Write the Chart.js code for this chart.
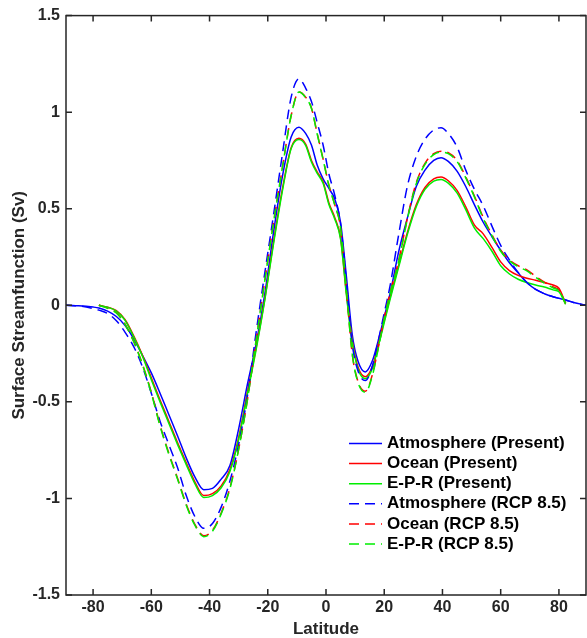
<!DOCTYPE html>
<html>
<head>
<meta charset="utf-8">
<script src="https://cdn.jsdelivr.net/npm/chart.js@4.4.1/dist/chart.umd.min.js"></script>
<style>
  html, body { margin: 0; padding: 0; background: #fff; }
</style>
</head>
<body>
<canvas id="chart" width="587" height="638"></canvas>
<script>
'use strict';

// Latitude grid shared by all curves (null = curve not defined there)
const latitude = [-89.3, -85, -80, -78, -75, -72, -69, -66, -63, -60, -57, -54, -51, -48, -45, -42, -39, -36, -33, -30,
  -27, -24, -21, -18, -15, -12, -9.3, -7, -5, -3, -1, 1, 3, 5, 7, 9, 11, 13.5, 16, 18,
  20, 22, 25, 28, 31, 34, 37, 39.5, 42, 45, 48, 51, 54, 57, 60, 63, 66, 69, 72, 75,
  78, 80, 82.3, 85, 89.3];

const atmPresent = [0, -0.002, -0.009, -0.014, -0.03, -0.058, -0.105, -0.175, -0.26, -0.35, -0.455, -0.565, -0.675, -0.79, -0.89, -0.955, -0.948, -0.9, -0.83, -0.64,
  -0.41, -0.2, 0.06, 0.38, 0.665, 0.87, 0.922, 0.89, 0.83, 0.725, 0.655, 0.605, 0.55, 0.43, 0.15, -0.15, -0.29, -0.345, -0.285, -0.18,
  -0.06, 0.06, 0.28, 0.455, 0.615, 0.7, 0.75, 0.764, 0.745, 0.695, 0.615, 0.52, 0.43, 0.355, 0.285, 0.22, 0.168, 0.118, 0.082, 0.06,
  0.044, 0.036, 0.027, 0.015, 0];

const ocnPresent = [null, null, null, 0, -0.01, -0.028, -0.075, -0.16, -0.26, -0.375, -0.49, -0.6, -0.71, -0.815, -0.915, -0.985, -0.975, -0.935, -0.85, -0.685,
  -0.45, -0.22, 0.035, 0.33, 0.6, 0.815, 0.865, 0.835, 0.75, 0.69, 0.64, 0.53, 0.455, 0.35, 0.065, -0.18, -0.32, -0.37, -0.315, -0.2,
  -0.08, 0.04, 0.21, 0.38, 0.52, 0.61, 0.655, 0.664, 0.645, 0.595, 0.51, 0.415, 0.37, 0.3, 0.225, 0.18, 0.155, 0.14, 0.13, 0.118,
  0.105, 0.088, 0.01, null, null];

const eprPresent = [null, null, null, 0, -0.01, -0.03, -0.078, -0.165, -0.265, -0.385, -0.5, -0.61, -0.72, -0.825, -0.925, -0.995, -0.985, -0.945, -0.86, -0.695,
  -0.46, -0.23, 0.03, 0.32, 0.59, 0.81, 0.858, 0.828, 0.742, 0.683, 0.632, 0.522, 0.447, 0.342, 0.055, -0.19, -0.33, -0.38, -0.325, -0.21,
  -0.09, 0.03, 0.2, 0.37, 0.51, 0.6, 0.643, 0.652, 0.633, 0.582, 0.495, 0.4, 0.345, 0.28, 0.205, 0.162, 0.135, 0.118, 0.105, 0.095,
  0.08, 0.07, 0.005, null, null];

const atmRcp = [0, -0.003, -0.017, -0.025, -0.042, -0.08, -0.14, -0.215, -0.32, -0.455, -0.6, -0.72, -0.84, -0.985, -1.095, -1.155, -1.13, -1.045, -0.91, -0.72,
  -0.47, -0.14, 0.17, 0.47, 0.78, 1.075, 1.173, 1.125, 1.055, 0.945, 0.83, 0.68, 0.57, 0.42, 0.12, -0.2, -0.34, -0.39, -0.31, -0.18,
  -0.04, 0.1, 0.37, 0.62, 0.77, 0.86, 0.908, 0.919, 0.89, 0.82, 0.7, 0.6, 0.515, 0.41, 0.31, 0.235, 0.17, 0.118, 0.082, 0.06,
  0.044, 0.036, 0.027, 0.015, 0];

const ocnRcp = [null, null, null, 0, -0.014, -0.038, -0.098, -0.188, -0.306, -0.45, -0.62, -0.765, -0.895, -1.03, -1.135, -1.193, -1.165, -1.075, -0.945, -0.745,
  -0.49, -0.18, 0.13, 0.43, 0.71, 0.98, 1.104, 1.078, 1.022, 0.888, 0.758, 0.622, 0.522, 0.402, 0.08, -0.25, -0.395, -0.445, -0.355, -0.215,
  -0.065, 0.065, 0.235, 0.455, 0.635, 0.735, 0.785, 0.798, 0.79, 0.75, 0.665, 0.565, 0.455, 0.365, 0.285, 0.235, 0.205, 0.183, 0.15, 0.12,
  0.095, 0.08, 0.01, null, null];

const eprRcp = [null, null, null, 0, -0.015, -0.04, -0.1, -0.19, -0.31, -0.455, -0.625, -0.77, -0.9, -1.035, -1.14, -1.198, -1.17, -1.08, -0.95, -0.745,
  -0.49, -0.18, 0.13, 0.43, 0.71, 0.98, 1.104, 1.075, 1.02, 0.885, 0.755, 0.62, 0.52, 0.4, 0.08, -0.25, -0.4, -0.45, -0.36, -0.22,
  -0.07, 0.06, 0.23, 0.45, 0.63, 0.73, 0.78, 0.793, 0.785, 0.745, 0.66, 0.56, 0.45, 0.36, 0.28, 0.23, 0.2, 0.178, 0.145, 0.115,
  0.09, 0.075, 0.01, null, null];

const seriesLabels = ['Atmosphere (Present)', 'Ocean (Present)', 'E-P-R (Present)',
  'Atmosphere (RCP 8.5)', 'Ocean (RCP 8.5)', 'E-P-R (RCP 8.5)'];

const xTicks = [-80, -60, -40, -20, 0, 20, 40, 60, 80];
const yTicks = [-1.5, -1, -0.5, 0, 0.5, 1, 1.5];

const axisColor = '#262626';
const fontFamily = '"Liberation Sans", Arial, Helvetica, sans-serif';
const dash = [10, 6];

function points(values) {
  const out = [];
  values.forEach((v, i) => {
    if (v !== null) out.push({ x: latitude[i], y: v });
  });
  return out;
}

// later series are drawn on top, as in the original plot
function line(index, values, color, dashed) {
  return {
    label: seriesLabels[index],
    data: points(values),
    borderColor: color,
    borderWidth: 1.5,
    borderDash: dashed ? dash : [],
    pointRadius: 0,
    fill: false,
    cubicInterpolationMode: 'monotone',
    order: seriesLabels.length - index,
  };
}

// Box round the plot with inward ticks on all four sides
const axesBox = {
  id: 'axesBox',
  afterDatasetsDraw(chart) {
    const { ctx, chartArea: a, scales: { x, y } } = chart;
    ctx.save();
    ctx.strokeStyle = axisColor;
    ctx.lineWidth = 1.5;
    ctx.strokeRect(a.left, a.top, a.right - a.left, a.bottom - a.top);
    ctx.beginPath();
    for (const t of x.ticks) {
      const px = x.getPixelForValue(t.value);
      ctx.moveTo(px, a.bottom); ctx.lineTo(px, a.bottom - 6);
      ctx.moveTo(px, a.top); ctx.lineTo(px, a.top + 6);
    }
    for (const t of y.ticks) {
      const py = y.getPixelForValue(t.value);
      ctx.moveTo(a.left, py); ctx.lineTo(a.left + 6, py);
      ctx.moveTo(a.right, py); ctx.lineTo(a.right - 6, py);
    }
    ctx.stroke();
    ctx.restore();
  }
};

// Legend inside the lower right of the plot
const innerLegend = {
  id: 'innerLegend',
  afterDraw(chart) {
    const { ctx } = chart;
    ctx.save();
    ctx.font = `bold 17px ${fontFamily}`;
    ctx.textBaseline = 'middle';
    chart.data.datasets.forEach((ds, i) => {
      const yy = 443.5 + i * 20.1;
      ctx.strokeStyle = ds.borderColor;
      ctx.lineWidth = 1.5;
      ctx.setLineDash(ds.borderDash);
      ctx.beginPath();
      ctx.moveTo(349, yy);
      ctx.lineTo(382, yy);
      ctx.stroke();
      ctx.setLineDash([]);
      ctx.fillStyle = '#000';
      ctx.fillText(ds.label, 387, yy);
    });
    ctx.restore();
  }
};

new Chart(document.getElementById('chart'), {
  type: 'line',
  data: {
    datasets: [
      line(0, atmPresent, '#0000ff', false),
      line(1, ocnPresent, '#ff0000', false),
      line(2, eprPresent, '#00ee00', false),
      line(3, atmRcp, '#0000ff', true),
      line(4, ocnRcp, '#ff0000', true),
      line(5, eprRcp, '#00ee00', true),
    ],
  },
  options: {
    responsive: false,
    animation: false,
    layout: { padding: { top: 15, right: 1, left: 0, bottom: 0 } },
    plugins: {
      legend: { display: false },
      tooltip: { enabled: false },
    },
    scales: {
      x: {
        type: 'linear',
        min: -89.3,
        max: 89.3,
        afterBuildTicks: scale => { scale.ticks = xTicks.map(value => ({ value })); },
        afterFit: scale => { scale.height = 43; },
        grid: { display: false, drawTicks: false },
        border: { display: false },
        ticks: {
          padding: 3,
          color: axisColor,
          font: { family: fontFamily, size: 16, weight: 'bold' },
          callback: v => String(v),
          maxRotation: 0,
        },
        title: {
          display: true,
          text: 'Latitude',
          color: axisColor,
          padding: 0,
          font: { family: fontFamily, size: 17, weight: 'bold', lineHeight: 1 },
        },
      },
      y: {
        min: -1.5,
        max: 1.5,
        afterBuildTicks: scale => { scale.ticks = yTicks.map(value => ({ value })); },
        afterFit: scale => { scale.width = 66; },
        grid: { display: false, drawTicks: false },
        border: { display: false },
        ticks: {
          padding: 6,
          color: axisColor,
          font: { family: fontFamily, size: 16, weight: 'bold' },
          callback: v => String(v),
        },
        title: {
          display: true,
          text: 'Surface Streamfunction (Sv)',
          color: axisColor,
          padding: { top: 11, bottom: 0 },
          font: { family: fontFamily, size: 17, weight: 'bold', lineHeight: 1 },
        },
      },
    },
  },
  plugins: [axesBox, innerLegend],
});
</script>
</body>
</html>
